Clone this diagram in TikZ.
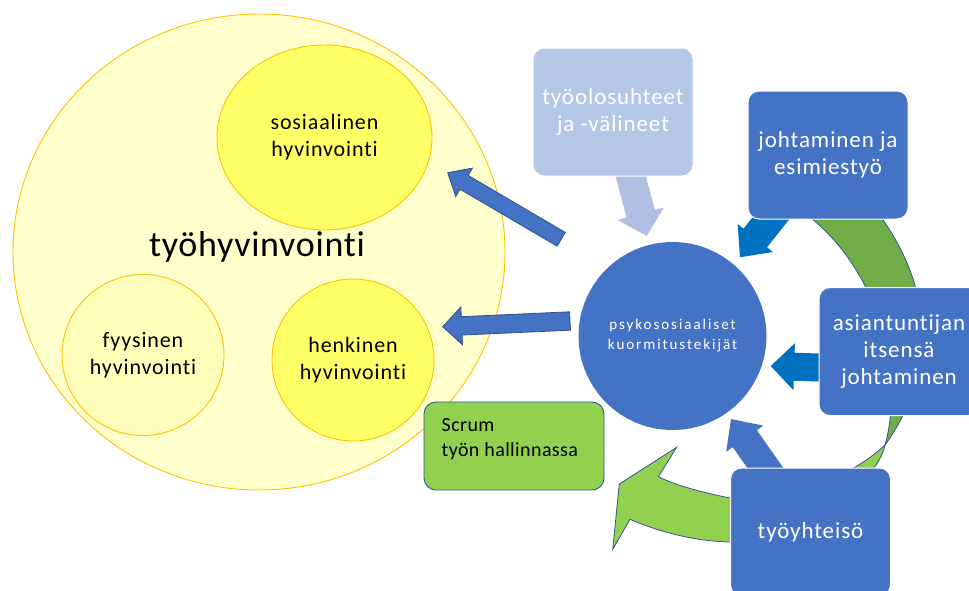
\documentclass[tikz,border=0pt]{standalone}
\usepackage{fontspec}
\setmainfont{Carlito}[Ligatures=CommonOff]
\usetikzlibrary{shapes.geometric,calc}
\definecolor{bigfill}{HTML}{FFFFCC}
\definecolor{palefill}{HTML}{FFFFBB}
\definecolor{yelfill}{HTML}{FFFF66}
\definecolor{ellline}{HTML}{FFC000}
\definecolor{blueA}{HTML}{4472C4}
\definecolor{blueline}{HTML}{2F528F}
\definecolor{lightblue}{HTML}{B4C7E7}
\definecolor{lightarrow}{HTML}{B0BFE3}
\definecolor{darkarrow}{HTML}{0070C0}
\definecolor{greenA}{HTML}{70AD47}
\definecolor{greenB}{HTML}{92D050}
\definecolor{greenline}{HTML}{2F5597}
\newcommand{\barrow}[6]{%
  \coordinate (bh) at ($(#3)!#6pt!(#2)$);
  \path[#1] ($(#2)!#4pt!90:(#3)$) -- ($(bh)!#4pt!90:(#3)$) -- ($(bh)!#5pt!90:(#3)$)
    -- (#3) -- ($(bh)!#5pt!-90:(#3)$) -- ($(bh)!#4pt!-90:(#3)$) -- ($(#2)!#4pt!-90:(#3)$) -- cycle;
}
\begin{document}
\begin{tikzpicture}[x=1pt,y=-1pt,
  ell/.style={ellipse, draw=ellline, line width=0.9pt, inner sep=0pt, align=center,
    font=\fontsize{22}{27}\selectfont\addfontfeature{LetterSpace=4}},
  bluebox/.style={rectangle, rounded corners=11pt, fill=blueA, draw=white, line width=1pt,
    minimum width=160pt, minimum height=128pt, text=white, align=center,
    font=\fontsize{23}{27}\selectfont\addfontfeature{LetterSpace=4}},
  leftarrow/.style={fill=blueA, draw=blueline, line width=0.8pt},
  darkarr/.style={fill=darkarrow},
  band/.style={draw=greenline, line width=0.8pt}
]
\useasboundingbox (0,0) rectangle (969,590);

% work well-being
\node[ell, fill=bigfill, minimum width=492pt, minimum height=476pt] (big) at (259,252) {};
\node[ell, fill=yelfill, minimum width=215pt, minimum height=185pt] (sos) at (324.5,137.5) {sosiaalinen\\hyvinvointi};
\node[ell, fill=palefill, minimum width=162pt, minimum height=161pt] (fyy) at (143,355) {fyysinen\\hyvinvointi};
\node[ell, fill=yelfill, minimum width=162pt, minimum height=162pt] (hen) at (353,360) {henkinen\\hyvinvointi};
\node[font=\fontsize{36}{42}\selectfont\addfontfeature{LetterSpace=2}] (title) at (257,247) {työhyvinvointi};

% arrows towards well-being
\coordinate (u1) at (561.2,239.3); \coordinate (u2) at (447.7,172.7);
\coordinate (l1) at (570,321);     \coordinate (l2) at (442.7,326.7);
\barrow{leftarrow}{u1}{u2}{8}{16.5}{19}
\barrow{leftarrow}{l1}{l2}{9.2}{19}{19}

% green twisted cycle arrow
\path[band, fill=greenA] (868,200) .. controls (950,300) and (925,390) .. (885,445)
  .. controls (905,375) and (880,255) .. (785,200) -- cycle;
\path[band, fill=greenB] (885,445) .. controls (850,478) and (790,500) .. (730,498)
  .. controls (700,492) and (675,485) .. (658.3,476.7) -- (676.7,447.3) -- (619.3,484)
  -- (612.7,549.3) -- (630,519.3) .. controls (655,530) and (690,541) .. (730,542)
  .. controls (800,542) and (878,482) .. (885,445) -- cycle;

% arrows towards the circle
\coordinate (t1) at (629,170);     \coordinate (t2) at (646.7,236);
\coordinate (j1) at (786.6,198.5); \coordinate (j2) at (740,257.3);
\coordinate (a1) at (835,368);     \coordinate (a2) at (770.7,366);
\coordinate (y1) at (771.2,476.3); \coordinate (y2) at (731,419);
\barrow{fill=lightarrow}{t1}{t2}{14.7}{24}{23}
\barrow{darkarr}{j1}{j2}{15}{22.5}{24.6}
\barrow{darkarr}{a1}{a2}{14}{23.5}{23.5}
\barrow{fill=blueA}{y1}{y2}{14.75}{22.7}{24}

% boxes
\node[bluebox, fill=lightblue] (tyo) at (613,112) {työolosuhteet\\ja -välineet};
\node[bluebox] (joh) at (828,155) {johtaminen ja\\esimiestyö};
\node[bluebox] (asi) at (899,351.5) {asiantuntijan\\itsensä\\johtaminen};
\node[bluebox] (yht) at (810.5,532) {työyhteisö};

% central circle
\node[circle, fill=blueA, minimum size=188pt, inner sep=0pt, text=white, align=center,
  font=\fontsize{15}{20}\selectfont\addfontfeature{LetterSpace=13}] (psy) at (672.5,336)
  {psykososiaaliset\\kuormitustekijät};

% scrum box
\node[rectangle, rounded corners=12pt, fill=greenB, draw=greenline, line width=0.9pt,
  minimum width=180pt, minimum height=88pt] (scrum) at (514,446) {};
\node[anchor=west, align=left, inner sep=0pt, font=\fontsize{20}{25}\selectfont\addfontfeature{LetterSpace=2}] (scrumtxt)
  at (441.5,439) {Scrum\\työn hallinnassa};
\end{tikzpicture}
\end{document}
